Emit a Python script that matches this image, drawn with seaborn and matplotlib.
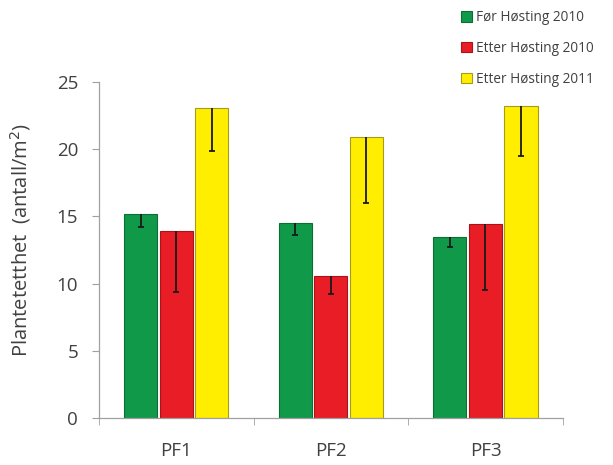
import numpy as np
import pandas as pd
import matplotlib
matplotlib.use("Agg")
import matplotlib.pyplot as plt
import seaborn as sns
from matplotlib.patches import Patch

categories = ["PF1", "PF2", "PF3"]
series = ["Før Høsting 2010", "Etter Høsting 2010", "Etter Høsting 2011"]
for_2010 = [15.2, 14.5, 13.5]
etter_2010 = [13.9, 10.6, 14.4]
etter_2011 = [23.1, 20.9, 23.2]
err_for_2010 = [1.0, 0.9, 0.8]
err_etter_2010 = [4.5, 1.4, 4.9]
err_etter_2011 = [3.2, 4.9, 3.7]
colors = ["#11994A", "#E91D25", "#FFEE00"]
edges = ["#0B6E33", "#A8141A", "#A69B1A"]

values = [for_2010, etter_2010, etter_2011]
errs = [err_for_2010, err_etter_2010, err_etter_2011]
rows = []
for s, vals in zip(series, values):
    for c, v in zip(categories, vals):
        rows.append({"cat": c, "series": s, "val": v})
df = pd.DataFrame(rows)

sns.set_style("white")
plt.rcParams['font.family'] = ['Open Sans', 'DejaVu Sans']

fig = plt.figure(figsize=(6.13, 4.65), dpi=100)
ax = fig.add_axes([0.1615, 0.101, 0.918 - 0.1615, 0.8237 - 0.101])

sns.barplot(data=df, x="cat", y="val", hue="series", order=categories,
            hue_order=series, palette=colors, width=0.69, gap=0.07,
            errorbar=None, ax=ax, legend=False, linewidth=0.8, saturation=1)

# color edges and add error bars (downward only)
containers = list(ax.containers)
for i, cont in enumerate(containers):
    xs = []
    ys = []
    for p in cont.patches:
        p.set_edgecolor(edges[i])
        xs.append(p.get_x() + p.get_width() / 2)
        ys.append(p.get_height())
    lower = np.array(errs[i])
    eb = ax.errorbar(xs, ys, yerr=[lower, np.zeros_like(lower)], fmt="none",
                     ecolor="#1a1a1a", elinewidth=1.3, capsize=2.2, capthick=1.3)
    caplines = eb[1]
    if len(caplines) > 1:
        caplines[1].set_visible(False)

ax.set_xlim(-0.5, 2.5)
ax.set_ylim(0, 25)
ax.set_yticks([0, 5, 10, 15, 20, 25])
ax.set_xlabel("")
ax.set_ylabel("Plantetetthet  (antall/m$^2$)", fontsize=14.5, color="#404040")
ax.yaxis.set_label_coords(-0.143, 0.53)

for s in ["top", "right"]:
    ax.spines[s].set_visible(False)
for s in ["left", "bottom"]:
    ax.spines[s].set_color("#A0A0A0")
    ax.spines[s].set_linewidth(0.9)

ax.tick_params(axis="y", which="major", left=True, length=5, color="#A0A0A0",
               labelsize=13.5, labelcolor="#404040", pad=10)
ax.tick_params(axis="x", which="major", bottom=False, labelsize=13.5,
               labelcolor="#404040", pad=14)
ax.set_xticks([-0.5, 0.5, 1.5, 2.5], minor=True)
ax.tick_params(axis="x", which="minor", bottom=True, length=5, color="#A0A0A0")

handles = [Patch(facecolor=c, edgecolor=e, linewidth=0.8) for c, e in zip(colors, edges)]
fig.legend(handles, series, loc="upper left", bbox_to_anchor=(0.735, 1.0),
           frameon=False, fontsize=9.8, handlelength=0.8, handleheight=0.8,
           handletextpad=0.3, labelspacing=1.15, labelcolor="#404040",
           borderaxespad=0.35)

fig.savefig("out.png", dpi=100)
